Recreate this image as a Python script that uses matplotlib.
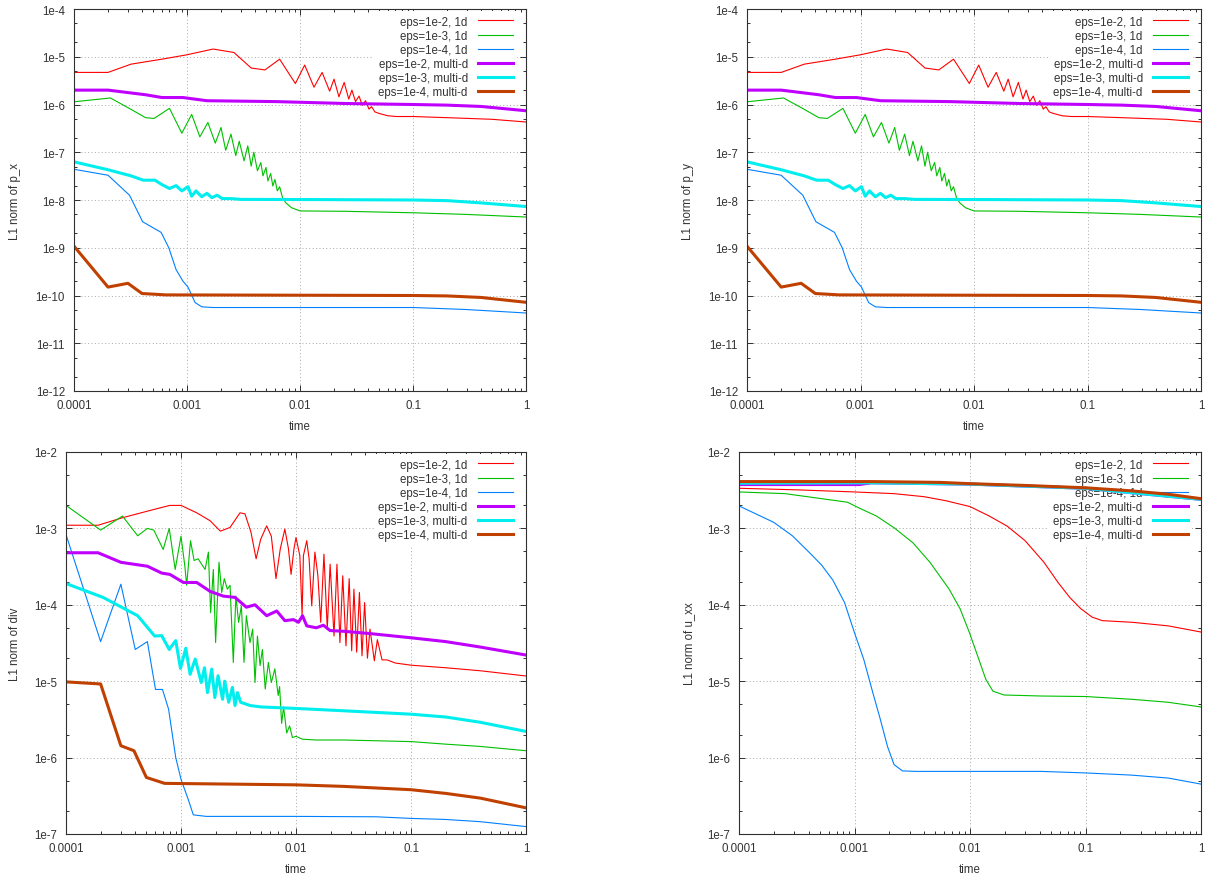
import matplotlib
matplotlib.use('Agg')
import matplotlib.pyplot as plt
from matplotlib.ticker import LogLocator, NullFormatter

plt.rcParams['font.family'] = ['Liberation Sans', 'DejaVu Sans']

# --- colours of the 6 series (gnuplot default line types) ---
labels = ['eps=1e-2, 1d', 'eps=1e-3, 1d', 'eps=1e-4, 1d',
          'eps=1e-2, multi-d', 'eps=1e-3, multi-d', 'eps=1e-4, multi-d']
colors = ['#ff0000', '#00c000', '#0080ff', '#c000ff', '#00eeee', '#c04000']

x_ticks = [1e-4, 1e-3, 1e-2, 1e-1, 1.0]
x_tick_labels = ['0.0001', '0.001', '0.01', '0.1', '1']
top_y_ticks = [1e-12, 1e-11, 1e-10, 1e-9, 1e-8, 1e-7, 1e-6, 1e-5, 1e-4]
top_y_labels = ['1e-12', '1e-11', '1e-10', '1e-9', '1e-8', '1e-7', '1e-6', '1e-5', '1e-4']
bot_y_ticks = [1e-7, 1e-6, 1e-5, 1e-4, 1e-3, 1e-2]
bot_y_labels = ['1e-7', '1e-6', '1e-5', '1e-4', '1e-3', '1e-2']

# ---------------- L1 norm of p_x (p_y looks the same) ----------------
t_p_1d_e2 = [1e-4, 2e-4, 3.2e-4, 6e-4, 1e-3, 1.7e-3, 2.6e-3, 3.7e-3, 4.9e-3, 6.6e-3,
             9.1e-3, 0.011, 0.0133, 0.0157, 0.0183, 0.020, 0.0221, 0.0246, 0.027, 0.0288,
             0.031, 0.0333, 0.0356, 0.038, 0.0408, 0.043, 0.046, 0.050, 0.060, 0.072,
             0.1, 0.2, 0.5, 1.0]
v_p_1d_e2 = [4.7e-6, 4.7e-6, 7.0e-6, 8.9e-6, 1.1e-5, 1.45e-5, 1.23e-5, 5.8e-6, 5.3e-6, 8.9e-6,
             2.75e-6, 6.7e-6, 2.3e-6, 4.7e-6, 1.9e-6, 3.4e-6, 1.45e-6, 2.9e-6, 1.3e-6, 2.0e-6,
             1.15e-6, 1.5e-6, 9.6e-7, 1.2e-6, 8.0e-7, 9.0e-7, 7.0e-7, 6.5e-7, 5.8e-7, 5.6e-7,
             5.6e-7, 5.3e-7, 4.9e-7, 4.3e-7]

t_p_1d_e3 = [1e-4, 2.1e-4, 3.2e-4, 4.3e-4, 5.1e-4, 7e-4, 9e-4, 1.1e-3, 1.3e-3, 1.53e-3,
             1.78e-3, 2.0e-3, 2.2e-3, 2.45e-3, 2.7e-3, 2.9e-3, 3.2e-3, 3.45e-3, 3.7e-3, 3.9e-3,
             4.2e-3, 4.5e-3, 4.7e-3, 5.0e-3, 5.2e-3, 5.5e-3, 5.75e-3, 6.0e-3, 6.3e-3, 6.6e-3,
             7.0e-3, 7.5e-3, 8.4e-3, 0.01, 0.025, 0.1, 0.29, 1.0]
v_p_1d_e3 = [1.14e-6, 1.37e-6, 7.9e-7, 5.3e-7, 5.1e-7, 8.3e-7, 2.5e-7, 6.2e-7, 2.1e-7, 4.2e-7,
             1.55e-7, 3.3e-7, 1.1e-7, 2.4e-7, 8.5e-8, 1.7e-7, 6.6e-8, 1.36e-7, 5.1e-8, 1.0e-7,
             4.1e-8, 6.1e-8, 3.2e-8, 4.8e-8, 2.5e-8, 3.6e-8, 1.96e-8, 2.7e-8, 1.55e-8, 1.9e-8,
             1.12e-8, 8.7e-9, 6.9e-9, 5.9e-9, 5.8e-9, 5.4e-9, 5.0e-9, 4.4e-9]

t_p_1d_e4 = [1e-4, 2e-4, 3.1e-4, 4.05e-4, 5.9e-4, 6.9e-4, 8e-4, 9.2e-4, 1.02e-3, 1.18e-3,
             1.35e-3, 1.7e-3, 0.1, 0.29, 1.0]
v_p_1d_e4 = [4.4e-8, 3.3e-8, 1.26e-8, 3.5e-9, 2.1e-9, 1.0e-9, 3.5e-10, 2.0e-10, 1.5e-10, 7.1e-11,
             5.8e-11, 5.6e-11, 5.6e-11, 5.1e-11, 4.3e-11]

t_p_md_e2 = [1e-4, 2e-4, 4.3e-4, 6e-4, 9.2e-4, 1.5e-3, 6.1e-3, 0.025, 0.1, 0.2, 0.4, 1.0]
v_p_md_e2 = [2.0e-6, 2.0e-6, 1.6e-6, 1.4e-6, 1.4e-6, 1.2e-6, 1.15e-6, 1.05e-6, 1.0e-6, 9.7e-7,
             9.1e-7, 7.4e-7]

t_p_md_e3 = [1e-4, 2e-4, 3.2e-4, 4.1e-4, 5.2e-4, 6e-4, 7e-4, 8e-4, 9e-4, 1.02e-3,
             1.1e-3, 1.2e-3, 1.35e-3, 1.5e-3, 1.66e-3, 1.85e-3, 2.05e-3, 2.45e-3, 3e-3, 0.015,
             0.1, 0.2, 0.4, 1.0]
v_p_md_e3 = [6.3e-8, 4.3e-8, 3.2e-8, 2.6e-8, 2.6e-8, 2.1e-8, 1.74e-8, 2.0e-8, 1.55e-8, 1.9e-8,
             1.2e-8, 1.55e-8, 1.17e-8, 1.38e-8, 1.12e-8, 1.26e-8, 1.07e-8, 1.07e-8, 1.03e-8, 1.02e-8,
             1.0e-8, 9.7e-9, 8.7e-9, 7.3e-9]

t_p_md_e4 = [1e-4, 2e-4, 3e-4, 4e-4, 6.5e-4, 0.1, 0.2, 0.4, 1.0]
v_p_md_e4 = [1.08e-9, 1.5e-10, 1.8e-10, 1.1e-10, 1.03e-10, 1.0e-10, 9.8e-11, 9.1e-11, 7.2e-11]

# ---------------- L1 norm of div ----------------
t_d_1d_e2 = [1e-4, 1.9e-4, 3.1e-4, 5.9e-4, 8e-4, 1e-3, 1.37e-3, 1.79e-3, 2.2e-3, 2.67e-3,
             3.26e-3, 3.6e-3, 4.06e-3, 4.5e-3, 4.93e-3, 5.56e-3, 6.1e-3, 6.7e-3, 7.3e-3, 8e-3,
             8.6e-3, 9.06e-3, 9.6e-3, 0.01, 0.0108, 0.0113, 0.0116, 0.0124, 0.013, 0.0137,
             0.0146, 0.0155, 0.0164, 0.0175, 0.0187, 0.0198, 0.0214, 0.0227, 0.0241, 0.0255,
             0.0272, 0.029, 0.0305, 0.0319, 0.0337, 0.0356, 0.0375, 0.0395, 0.0418, 0.044,
             0.048, 0.051, 0.056, 0.062, 0.073, 0.1, 0.2, 0.4, 1.0]
v_d_1d_e2 = [1.1e-3, 1.1e-3, 1.38e-3, 1.78e-3, 2e-3, 2e-3, 1.6e-3, 1.26e-3, 9.2e-4, 1.03e-3,
             1.6e-3, 1.55e-3, 8.9e-4, 4e-4, 7.2e-4, 1.08e-3, 7.9e-4, 2.2e-4, 5.4e-4, 9.8e-4,
             5.4e-4, 2.5e-4, 5.4e-4, 7.6e-4, 4.4e-4, 7.2e-5, 4.4e-4, 6.9e-4, 4e-4, 9.7e-5,
             4.9e-4, 2.4e-4, 5.9e-5, 4.6e-4, 4.8e-5, 3.4e-4, 3.9e-5, 3.4e-4, 3.2e-5, 2.4e-4,
             2.9e-5, 2.2e-4, 2.5e-5, 1.6e-4, 2.4e-5, 1.45e-4, 2.15e-5, 1.07e-4, 2e-5, 4.8e-5,
             1.85e-5, 3.5e-5, 1.9e-5, 1.9e-5, 1.73e-5, 1.62e-5, 1.5e-5, 1.37e-5, 1.17e-5]

t_d_1d_e3 = [1e-4, 2e-4, 3.1e-4, 4.2e-4, 5.1e-4, 5.8e-4, 7e-4, 7.9e-4, 8.9e-4, 1e-3,
             1.08e-3, 1.12e-3, 1.21e-3, 1.3e-3, 1.41e-3, 1.53e-3, 1.62e-3, 1.73e-3, 1.81e-3, 1.91e-3,
             2e-3, 2.14e-3, 2.26e-3, 2.38e-3, 2.53e-3, 2.67e-3, 2.85e-3, 3e-3, 3.17e-3, 3.35e-3,
             3.53e-3, 3.7e-3, 3.98e-3, 4.2e-3, 4.4e-3, 4.62e-3, 4.87e-3, 5.1e-3, 5.4e-3, 5.75e-3,
             6.1e-3, 6.55e-3, 7e-3, 7.2e-3, 7.5e-3, 7.8e-3, 8.3e-3, 8.8e-3, 9.3e-3, 0.01,
             0.0114, 0.015, 0.026, 0.1, 0.2, 0.4, 1.0]
v_d_1d_e3 = [2e-3, 9.5e-4, 1.45e-3, 8e-4, 1e-3, 9.5e-4, 5.3e-4, 1e-3, 2.9e-4, 7.9e-4,
             3.2e-4, 1.8e-4, 6.9e-4, 3.8e-4, 4e-4, 3.3e-4, 2.9e-4, 4.9e-4, 7.9e-5, 2.9e-4,
             3.2e-5, 3.6e-4, 1.45e-4, 2.2e-4, 1.6e-4, 1.8e-4, 1.76e-5, 1.3e-4, 5.9e-5, 9.7e-5,
             1.76e-5, 7.2e-5, 3.2e-5, 4.8e-5, 9.6e-6, 3.9e-5, 1.6e-5, 2.6e-5, 7.9e-6, 1.76e-5,
             9.6e-6, 1.45e-5, 6.5e-6, 8.5e-6, 2.8e-6, 4.6e-6, 2.1e-6, 2.6e-6, 1.83e-6, 1.9e-6,
             1.74e-6, 1.7e-6, 1.7e-6, 1.62e-6, 1.5e-6, 1.4e-6, 1.23e-6]

t_d_1d_e4 = [1e-4, 2e-4, 3e-4, 4e-4, 5.1e-4, 6e-4, 6.9e-4, 7.8e-4, 9e-4, 1e-3,
             1.15e-3, 1.28e-3, 1.66e-3, 0.01, 0.05, 0.1, 0.2, 0.4, 1.0]
v_d_1d_e4 = [8.3e-4, 3.3e-5, 1.86e-4, 2.6e-5, 3.3e-5, 7.8e-6, 7.8e-6, 4.3e-6, 1e-6, 5.2e-7,
             2.9e-7, 1.78e-7, 1.7e-7, 1.7e-7, 1.68e-7, 1.6e-7, 1.55e-7, 1.45e-7, 1.25e-7]

t_d_md_e2 = [1e-4, 1.9e-4, 3e-4, 5.1e-4, 6.8e-4, 8e-4, 1.05e-3, 1.37e-3, 1.79e-3, 2.33e-3,
             2.95e-3, 3.7e-3, 4.4e-3, 5.56e-3, 6.8e-3, 8e-3, 9.5e-3, 0.0105, 0.0114, 0.0124,
             0.015, 0.0173, 0.0198, 0.026, 0.044, 0.1, 0.2, 0.4, 1.0]
v_d_md_e2 = [4.8e-4, 4.8e-4, 3.6e-4, 3.2e-4, 2.6e-4, 2.5e-4, 1.96e-4, 1.96e-4, 1.5e-4, 1.3e-4,
             1.25e-4, 9.3e-5, 1e-4, 7.2e-5, 8.3e-5, 6.2e-5, 6.4e-5, 5.9e-5, 7.2e-5, 5.3e-5,
             5e-5, 5.4e-5, 4.6e-5, 4.5e-5, 4.2e-5, 3.7e-5, 3.3e-5, 2.8e-5, 2.2e-5]

t_d_md_e3 = [1e-4, 2.1e-4, 4.2e-4, 5.9e-4, 6.8e-4, 7.9e-4, 9e-4, 9.9e-4, 1.1e-3, 1.2e-3,
             1.33e-3, 1.5e-3, 1.6e-3, 1.7e-3, 1.85e-3, 1.97e-3, 2.1e-3, 2.3e-3, 2.4e-3, 2.6e-3,
             2.8e-3, 2.95e-3, 3.1e-3, 3.3e-3, 4e-3, 5e-3, 0.01, 0.026, 0.1, 0.2, 0.4, 1.0]
v_d_md_e3 = [1.9e-4, 1.25e-4, 7.2e-5, 3.9e-5, 3.95e-5, 2.6e-5, 3.4e-5, 1.47e-5, 2.7e-5, 1.23e-5,
             1.95e-5, 9.6e-6, 1.5e-5, 7.1e-6, 1.44e-5, 6.1e-6, 1.18e-5, 5.8e-6, 1e-5, 5.3e-6,
             8.3e-6, 4.8e-6, 7.1e-6, 5.3e-6, 4.8e-6, 4.6e-6, 4.4e-6, 4.1e-6, 3.7e-6, 3.4e-6,
             2.9e-6, 2.2e-6]

t_d_md_e4 = [1e-4, 2e-4, 3e-4, 3.9e-4, 5e-4, 7.2e-4, 0.01, 0.026, 0.1, 0.2, 0.4, 1.0]
v_d_md_e4 = [9.8e-6, 9.2e-6, 1.43e-6, 1.23e-6, 5.5e-7, 4.6e-7, 4.4e-7, 4.2e-7, 3.8e-7, 3.4e-7,
             2.95e-7, 2.2e-7]

# ---------------- L1 norm of u_xx ----------------
t_u_1d_e2 = [1e-4, 3.1e-4, 1e-3, 2.2e-3, 4e-3, 6.2e-3, 0.01, 0.0147, 0.021, 0.03,
             0.0437, 0.058, 0.073, 0.091, 0.114, 0.14, 0.255, 0.52, 1.0]
v_u_1d_e2 = [3.35e-3, 3.2e-3, 3.0e-3, 2.85e-3, 2.6e-3, 2.3e-3, 1.93e-3, 1.45e-3, 1.07e-3, 6.9e-4,
             3.6e-4, 1.95e-4, 1.25e-4, 8.9e-5, 6.9e-5, 6.2e-5, 5.9e-5, 5.3e-5, 4.4e-5]

t_u_1d_e3 = [1e-4, 2.5e-4, 5.2e-4, 8.7e-4, 1.08e-3, 1.55e-3, 2.2e-3, 3.2e-3, 4.5e-3, 6.6e-3,
             8.2e-3, 9.9e-3, 0.0119, 0.0137, 0.0158, 0.0197, 0.041, 0.1, 0.25, 0.52, 1.0]
v_u_1d_e3 = [3.0e-3, 2.85e-3, 2.45e-3, 2.2e-3, 1.87e-3, 1.45e-3, 1.02e-3, 6.5e-4, 3.6e-4, 1.6e-4,
             8.9e-5, 4.3e-5, 1.95e-5, 1.06e-5, 7.4e-6, 6.6e-6, 6.4e-6, 6.3e-6, 5.8e-6, 5.3e-6, 4.6e-6]

t_u_1d_e4 = [1e-4, 2e-4, 2.9e-4, 4.2e-4, 5.2e-4, 6.5e-4, 8.2e-4, 1e-3, 1.2e-3, 1.44e-3,
             1.67e-3, 1.93e-3, 2.2e-3, 2.6e-3, 3.4e-3, 0.01, 0.041, 0.1, 0.25, 0.52, 1.0]
v_u_1d_e4 = [1.97e-3, 1.2e-3, 8.0e-4, 4.6e-4, 3.3e-4, 2.1e-4, 1.07e-4, 4.3e-5, 1.95e-5, 7.1e-6,
             3.2e-6, 1.4e-6, 8.1e-7, 6.7e-7, 6.6e-7, 6.6e-7, 6.6e-7, 6.3e-7, 5.9e-7, 5.4e-7, 4.5e-7]

t_u_md_e2 = [1e-4, 1.1e-3, 1.4e-3, 0.01, 0.1, 1.0]
v_u_md_e2 = [3.75e-3, 3.75e-3, 3.95e-3, 3.8e-3, 3.35e-3, 2.4e-3]

t_u_md_e3 = [1e-4, 1.4e-3, 0.01, 0.1, 1.0]
v_u_md_e3 = [3.9e-3, 3.95e-3, 3.8e-3, 3.35e-3, 2.4e-3]

t_u_md_e4 = [1e-4, 1.4e-3, 5.5e-3, 0.01, 0.03, 0.1, 0.25, 0.52, 1.0]
v_u_md_e4 = [4.1e-3, 4.1e-3, 4.0e-3, 3.85e-3, 3.65e-3, 3.4e-3, 3.1e-3, 2.8e-3, 2.45e-3]

p_series = [(t_p_1d_e2, v_p_1d_e2), (t_p_1d_e3, v_p_1d_e3), (t_p_1d_e4, v_p_1d_e4),
            (t_p_md_e2, v_p_md_e2), (t_p_md_e3, v_p_md_e3), (t_p_md_e4, v_p_md_e4)]
div_series = [(t_d_1d_e2, v_d_1d_e2), (t_d_1d_e3, v_d_1d_e3), (t_d_1d_e4, v_d_1d_e4),
              (t_d_md_e2, v_d_md_e2), (t_d_md_e3, v_d_md_e3), (t_d_md_e4, v_d_md_e4)]
uxx_series = [(t_u_1d_e2, v_u_1d_e2), (t_u_1d_e3, v_u_1d_e3), (t_u_1d_e4, v_u_1d_e4),
              (t_u_md_e2, v_u_md_e2), (t_u_md_e3, v_u_md_e3), (t_u_md_e4, v_u_md_e4)]

TXT = '#333333'
FS = 8.3


def draw_panel(ax, series, ylabel, yticks, ylabels, ylab_x):
    for i, (t, v) in enumerate(series):
        lw = 0.8 if i < 3 else 2.2
        ax.plot(t, v, color=colors[i], lw=lw, label=labels[i], zorder=2)
    ax.set_xscale('log')
    ax.set_yscale('log')
    ax.set_xlim(x_ticks[0], x_ticks[-1])
    ax.set_ylim(yticks[0], yticks[-1])

    # dotted grid, kept behind the key box
    for xv in x_ticks[1:-1]:
        ax.axvline(xv, color='#a8a8a8', lw=0.7, ls=(0, (1, 2.5)), zorder=0.5)
    for yv in yticks[1:-1]:
        ax.axhline(yv, color='#a8a8a8', lw=0.7, ls=(0, (1, 2.5)), zorder=0.5)

    ax.set_xticks(x_ticks)
    ax.set_xticklabels(x_tick_labels)
    ax.set_yticks(yticks)
    ax.set_yticklabels(ylabels)
    ax.xaxis.set_minor_locator(LogLocator(base=10, subs=[2, 3, 4, 5, 6, 7, 8, 9], numticks=20))
    ax.yaxis.set_minor_locator(LogLocator(base=10, subs=[2, 5], numticks=20))
    ax.xaxis.set_minor_formatter(NullFormatter())
    ax.yaxis.set_minor_formatter(NullFormatter())
    ax.tick_params(which='both', direction='in', top=True, right=True,
                   colors='#303030', labelcolor=TXT, labelsize=FS, width=0.7)
    ax.tick_params(which='major', length=4.5)
    ax.tick_params(which='minor', length=2.3)
    ax.tick_params(axis='x', which='major', pad=6)
    ax.tick_params(axis='y', which='major', pad=6.5)
    for s in ax.spines.values():
        s.set_color('#303030')
        s.set_linewidth(0.8)

    ax.set_xlabel('time', fontsize=FS, color=TXT)
    ax.set_ylabel(ylabel, fontsize=FS, color=TXT)
    ax.xaxis.set_label_coords(0.5, -0.075)
    ax.yaxis.set_label_coords(ylab_x, 0.5)

    leg = ax.legend(loc='upper right', bbox_to_anchor=(0.981, 0.995), markerfirst=False,
                    fontsize=FS, handlelength=3.0, handletextpad=0.9, labelspacing=0.18,
                    borderpad=0.4, borderaxespad=0, frameon=True, facecolor='white',
                    edgecolor='none', framealpha=1.0, fancybox=False)
    for txt in leg.get_texts():
        txt.set_color(TXT)
    leg.set_zorder(1.5)


fig = plt.figure(figsize=(12.11, 8.78), dpi=100)
W, H = 1211.0, 878.0
ax_tl = fig.add_axes([74 / W, 1 - 392 / H, 452 / W, 382 / H])
ax_tr = fig.add_axes([747 / W, 1 - 392 / H, 454 / W, 382 / H])
ax_bl = fig.add_axes([66 / W, 1 - 835 / H, 460 / W, 382 / H])
ax_br = fig.add_axes([739 / W, 1 - 835 / H, 462 / W, 382 / H])

draw_panel(ax_tl, p_series, 'L1 norm of p_x', top_y_ticks, top_y_labels, -0.117)
draw_panel(ax_tr, p_series, 'L1 norm of p_y', top_y_ticks, top_y_labels, -0.116)
draw_panel(ax_bl, div_series, 'L1 norm of div', bot_y_ticks, bot_y_labels, -0.098)
draw_panel(ax_br, uxx_series, 'L1 norm of u_xx', bot_y_ticks, bot_y_labels, -0.094)

fig.savefig('out.png', dpi=100)
